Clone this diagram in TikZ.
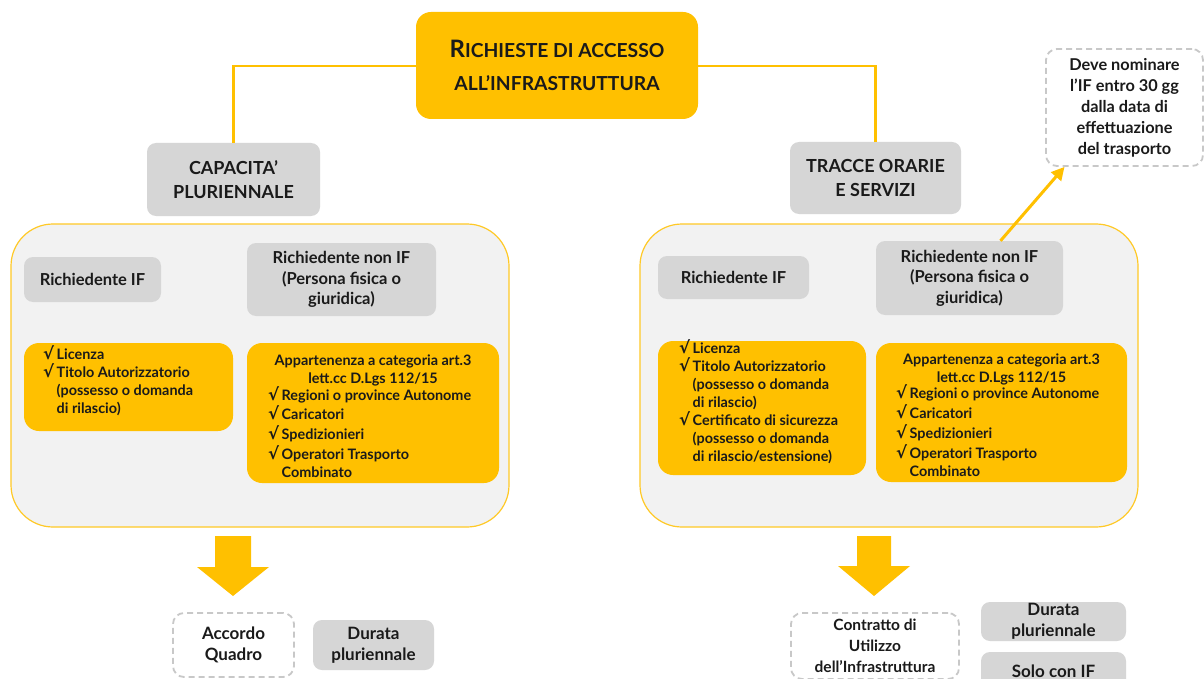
\documentclass[tikz,border=0pt]{standalone}
\usepackage{fontspec}
\setmainfont{Lato}
\newfontfamily\symf{DejaVu Sans}
\usetikzlibrary{arrows.meta}
\definecolor{myyellow}{HTML}{FFC000}
\definecolor{mygray}{HTML}{D6D6D6}
\definecolor{contfill}{HTML}{F2F2F2}
\definecolor{dashgray}{HTML}{C8C8C8}
\definecolor{txt}{HTML}{1A1A1A}
\newcommand\ck{\smash{\symf\bfseries\fontsize{16.5}{18}\selectfont √}}
\newcommand\tbigfont{\fontsize{24}{33}\selectfont}
\newcommand\tsmalfont{\fontsize{19.3}{33}\selectfont}
\tikzset{
  every node/.style={text=txt, font=\bfseries},
  ybox/.style={fill=myyellow, rounded corners=15pt, inner sep=0pt},
  gbox/.style={fill=mygray, rounded corners=9pt, inner sep=0pt, align=center},
  dbox/.style={draw=dashgray, dash pattern=on 6pt off 4pt, line width=1.8pt, fill=white, rounded corners=11pt, inner sep=0pt, align=center},
  cont/.style={fill=contfill, draw=myyellow!85, line width=1.2pt, rounded corners=42pt},
  conn/.style={draw=myyellow, line width=2.3pt},
  barrow/.style={fill=myyellow},
  lbl/.style={font=\bfseries\fontsize{16.5}{20.5}\selectfont},
  res/.style={font=\bfseries\fontsize{17}{21}\selectfont},
  hdr/.style={font=\bfseries\fontsize{18}{23.5}\selectfont},
  lst/.style={font=\bfseries\fontsize{14.4}{18}\selectfont, inner sep=0pt},
  lsth/.style={font=\bfseries\fontsize{14.4}{17.5}\selectfont, inner sep=0pt, align=center},
}
\begin{document}
\begin{tikzpicture}[x=1pt,y=-1pt]
\useasboundingbox (0,0) rectangle (1204,679);
\clip (0,0) rectangle (1204,679);
\fill[white] (0,0) rectangle (1204,679);

% title
\node[ybox, minimum width=282pt, minimum height=107pt, align=center, font=\bfseries\tsmalfont] (title) at (557,65.5)
  {{\tbigfont R}ICHIESTE DI ACCESSO\\ALL’INFRASTRUTTURA};

% category boxes
\node[gbox, hdr, minimum width=173pt, minimum height=73pt] (cap) at (233.5,179.5) {CAPACITA’\\PLURIENNALE};
\node[gbox, hdr, minimum width=171pt, minimum height=72pt] (trac) at (875.5,178) {TRACCE ORARIE\\E SERVIZI};

\draw[conn] (title.west |- 0,66) -| (cap.north);
\draw[conn] (title.east |- 0,66) -| (trac.north);

% containers
\node[cont, minimum width=498pt, minimum height=303pt] (lcont) at (260,375.5) {};
\node[cont, minimum width=498pt, minimum height=303pt] (rcont) at (889,375.5) {};

% left side
\node[gbox, lbl, minimum width=137pt, minimum height=45pt] (lif) at (92.5,279.5) {Richiedente IF};
\node[gbox, lbl, minimum width=189pt, minimum height=73pt] (lnon) at (341.5,279.5) {Richiedente non IF\\(Persona fisica o\\giuridica)};
\node[ybox, minimum width=209pt, minimum height=88pt] (llist1) at (128.5,387) {};
\node[lst, anchor=west] (llist1t) at (43,383) {%
\begin{tabular}{@{}l@{\hspace{2.5pt}}l@{}}
\ck & Licenza\\
\ck & Titolo Autorizzatorio\\
 & (possesso o domanda\\
 & di rilascio)
\end{tabular}};
\node[ybox, minimum width=252pt, minimum height=140pt] (llist2) at (373,413) {};
\node[lsth] (llist2h) at (373,370.5) {Appartenenza a categoria art.3\\lett.cc D.Lgs 112/15};
\node[lst, anchor=west] (llist2t) at (268,435.5) {%
\begin{tabular}{@{}l@{\hspace{2.5pt}}l@{}}
\ck & Regioni o province Autonome\\[1.5pt]
\ck & Caricatori\\[2pt]
\ck & Spedizionieri\\[2pt]
\ck & Operatori Trasporto\\
 & Combinato
\end{tabular}};

% right side
\node[gbox, lbl, minimum width=151pt, minimum height=43pt] (rif) at (733.5,277.5) {Richiedente IF};
\node[gbox, lbl, minimum width=187pt, minimum height=74pt] (rnon) at (969.5,278) {Richiedente non IF\\(Persona fisica o\\giuridica)};
\node[ybox, minimum width=208pt, minimum height=134pt] (rlist1) at (762,408) {};
\node[lst, anchor=west] (rlist1t) at (679,403.5) {%
\begin{tabular}{@{}l@{\hspace{2.5pt}}l@{}}
\ck & Licenza\\
\ck & Titolo Autorizzatorio\\
 & (possesso o domanda\\
 & di rilascio)\\
\ck & Certificato di sicurezza\\
 & (possesso o domanda\\
 & di rilascio/estensione)
\end{tabular}};
\node[ybox, minimum width=251pt, minimum height=139pt] (rlist2) at (1001.5,412.5) {};
\node[lsth] (rlist2h) at (1001.5,369.5) {Appartenenza a categoria art.3\\lett.cc D.Lgs 112/15};
\node[lst, anchor=west] (rlist2t) at (896,434) {%
\begin{tabular}{@{}l@{\hspace{2.5pt}}l@{}}
\ck & Regioni o province Autonome\\[1.5pt]
\ck & Caricatori\\[2pt]
\ck & Spedizionieri\\[2pt]
\ck & Operatori Trasporto\\
 & Combinato
\end{tabular}};

% note
\node[dbox, font=\bfseries\fontsize{16.3}{21}\selectfont, minimum width=157pt, minimum height=117pt] (note) at (1124.5,107.5)
  {Deve nominare\\l’IF entro 30 gg\\dalla data di\\effettuazione\\del trasporto};
\draw[myyellow, line width=3pt, -{Triangle[length=13pt,width=13pt]}] ([xshift=31pt]rnon.north) -- ([xshift=-60pt]note.south);

% big arrows
\fill[barrow] (215,536) -- (251,536) -- (251,567) -- (269,567) -- (233,596) -- (197,567) -- (215,567) -- cycle;
\fill[barrow] (857,536) -- (891,536) -- (891,566) -- (910,566) -- (874,596) -- (838,566) -- (857,566) -- cycle;

% results
\node[dbox, res, minimum width=121pt, minimum height=64pt] (acc) at (233.5,645) {Accordo\\Quadro};
\node[gbox, res, minimum width=121pt, minimum height=50pt] (ldur) at (373.5,645) {Durata\\pluriennale};
\node[dbox, res, font=\bfseries\fontsize{15.5}{21}\selectfont, minimum width=168pt, minimum height=66pt] (contr) at (875,646) {Contratto di\\Utilizzo\\dell’Infrastruttura};
\node[gbox, res, minimum width=145pt, minimum height=39pt] (rdur) at (1053.5,621.5) {Durata\\pluriennale};
\node[gbox, res, minimum width=145pt, minimum height=39pt] (solo) at (1053.5,671.5) {Solo con IF};
\end{tikzpicture}
\end{document}
